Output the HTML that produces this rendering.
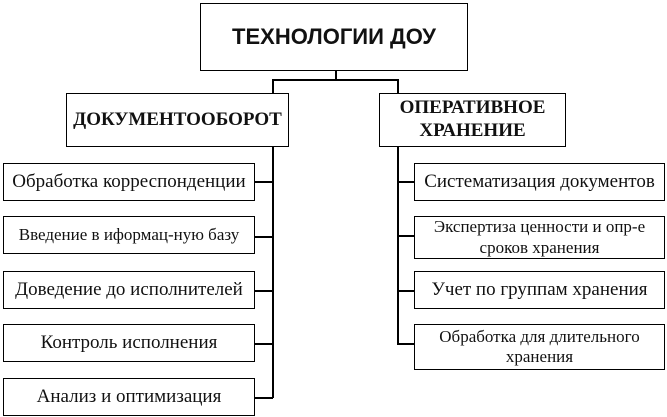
<!DOCTYPE html>
<html><head><meta charset="utf-8"><style>
body{margin:0;width:667px;height:417px;background:#fff;position:relative;overflow:hidden}
.b{position:absolute;border:1.5px solid #000;box-sizing:border-box;display:flex;align-items:center;justify-content:center;text-align:center;font-family:"Liberation Serif","Noto Serif CJK SC",serif;color:#111;line-height:1.2;white-space:nowrap}
.s{font-size:19px}
.m{font-size:17px}
.h{position:absolute;background:#000}
</style></head><body>
<div class="b" style="left:200px;top:3px;width:268px;height:68px;font-family:'Liberation Sans',sans-serif;font-weight:bold;font-size:22px">ТЕХНОЛОГИИ ДОУ</div>
<div class="h" style="left:335px;top:70px;width:1.5px;height:10px"></div>
<div class="h" style="left:272px;top:79px;width:126px;height:1.5px"></div>
<div class="h" style="left:272px;top:79px;width:1.5px;height:15px"></div>
<div class="h" style="left:397px;top:79px;width:1.5px;height:15px"></div>
<div class="b" style="left:66px;top:93px;width:223px;height:54px;font-weight:bold;font-size:19px">ДОКУМЕНТООБОРОТ</div>
<div class="b" style="left:379px;top:93px;width:187px;height:54px;font-weight:bold;font-size:19px">ОПЕРАТИВНОЕ<br>ХРАНЕНИЕ</div>
<div class="h" style="left:272px;top:146px;width:1.5px;height:252px"></div>
<div class="h" style="left:397px;top:146px;width:1.5px;height:198px"></div>
<div class="h" style="left:254px;top:181px;width:19px;height:1.5px"></div>
<div class="h" style="left:254px;top:236px;width:19px;height:1.5px"></div>
<div class="h" style="left:254px;top:290px;width:19px;height:1.5px"></div>
<div class="h" style="left:254px;top:343px;width:19px;height:1.5px"></div>
<div class="h" style="left:254px;top:397px;width:19px;height:1.5px"></div>
<div class="h" style="left:397px;top:181px;width:18px;height:1.5px"></div>
<div class="h" style="left:397px;top:235px;width:18px;height:1.5px"></div>
<div class="h" style="left:397px;top:290px;width:18px;height:1.5px"></div>
<div class="h" style="left:397px;top:343px;width:18px;height:1.5px"></div>
<div class="b s" style="left:3px;top:163px;width:252px;height:38px">Обработка корреспонденции</div>
<div class="b m" style="left:3px;top:216px;width:252px;height:38px">Введение в иформац-ную базу</div>
<div class="b s" style="left:3px;top:271px;width:252px;height:38px">Доведение до исполнителей</div>
<div class="b s" style="left:3px;top:324px;width:252px;height:38px">Контроль исполнения</div>
<div class="b s" style="left:3px;top:378px;width:252px;height:38px">Анализ и оптимизация</div>
<div class="b s" style="left:414px;top:163px;width:251px;height:38px">Систематизация документов</div>
<div class="b m" style="left:414px;top:216px;width:251px;height:43px">Экспертиза ценности и опр-е<br>сроков хранения</div>
<div class="b s" style="left:414px;top:271px;width:251px;height:38px">Учет по группам хранения</div>
<div class="b m" style="left:414px;top:324px;width:251px;height:46px">Обработка для длительного<br>хранения</div>
</body></html>
